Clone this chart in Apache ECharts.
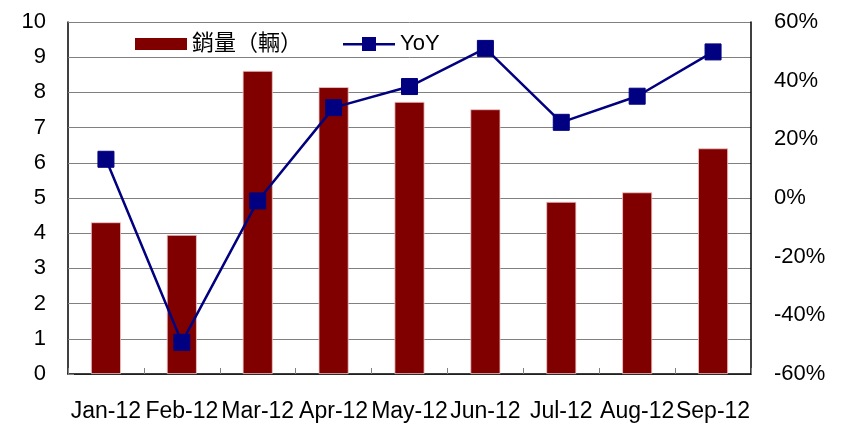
<!DOCTYPE html>
<html>
<head>
<meta charset="utf-8">
<script src="https://cdn.jsdelivr.net/npm/echarts@6/dist/echarts.min.js"></script>
<style>html,body{margin:0;padding:0;background:#fff;}#c{width:845px;height:428px;}</style>
</head>
<body>
<div id="c"></div>
<script>
const categories = ['Jan-12','Feb-12','Mar-12','Apr-12','May-12','Jun-12','Jul-12','Aug-12','Sep-12'];
const sales = [4.31, 3.95, 8.61, 8.15, 7.73, 7.52, 4.89, 5.16, 6.41];
const yoy = [13.2, -49.2, -1.0, 30.8, 38.0, 51.0, 25.8, 34.7, 49.8];
const salesName = '銷量（輛）';
const yoyName = 'YoY';

const font = '"Liberation Sans", Arial, "Noto Sans CJK TC", sans-serif';
const chart = echarts.init(document.getElementById('c'), null, {renderer: 'canvas'});
chart.setOption({
  animation: false,
  backgroundColor: '#fff',
  textStyle: {fontFamily: font},
  grid: {left: 68, right: 94, top: 22, bottom: 54, containLabel: false},
  legend: {
    top: 28, left: 130,
    itemWidth: 52, itemHeight: 14, itemGap: 41,
    textStyle: {fontSize: 22, color: '#000', fontFamily: font},
    data: [
      {name: salesName, icon: 'path://M0,1 L52,1 L52,13 L0,13 Z M0,0 L0.01,0 L0.01,14 L0,14 Z', itemStyle: {borderWidth: 0, color: '#800000'}},
      {name: yoyName, icon: 'path://M0,6 L19,6 L19,0 L33,0 L33,6 L52,6 L52,8.5 L33,8.5 L33,14 L19,14 L19,8.5 L0,8.5 Z', itemStyle: {color: '#000080', borderWidth: 0}}
    ]
  },
  xAxis: {
    type: 'category',
    data: categories,
    boundaryGap: true,
    axisLine: {lineStyle: {color: '#000', width: 1.5}},
    axisTick: {show: true, inside: true, interval: 0, length: 6, lineStyle: {color: '#808080'}},
    axisLabel: {fontSize: 23, color: '#000', margin: 26, interval: 0, fontFamily: font}
  },
  yAxis: [
    {
      type: 'value', min: 0, max: 10, interval: 1,
      axisLine: {show: true, lineStyle: {color: '#000', width: 1.5}},
      axisTick: {show: true, inside: true, length: 6, lineStyle: {color: '#808080'}},
      axisLabel: {fontSize: 22, color: '#000', margin: 22, fontFamily: font},
      splitLine: {show: true, lineStyle: {color: '#808080', width: 1}}
    },
    {
      type: 'value', min: -60, max: 60, interval: 20,
      position: 'right',
      axisLine: {show: true, lineStyle: {color: '#000', width: 1.5}},
      axisTick: {show: false},
      axisLabel: {fontSize: 22, color: '#000', margin: 23, formatter: '{value}%', fontFamily: font},
      splitLine: {show: false}
    }
  ],
  series: [
    {
      name: salesName, type: 'bar', data: sales, yAxisIndex: 0,
      barWidth: 30,
      itemStyle: {color: '#800000', borderColor: '#f0c8c8', borderWidth: 0.8}
    },
    {
      name: yoyName, type: 'line', data: yoy, yAxisIndex: 1,
      symbol: 'rect', symbolSize: 16,
      lineStyle: {color: '#000080', width: 2.5},
      itemStyle: {color: '#000080', borderColor: '#000080'}
    }
  ]
});
</script>
</body>
</html>
